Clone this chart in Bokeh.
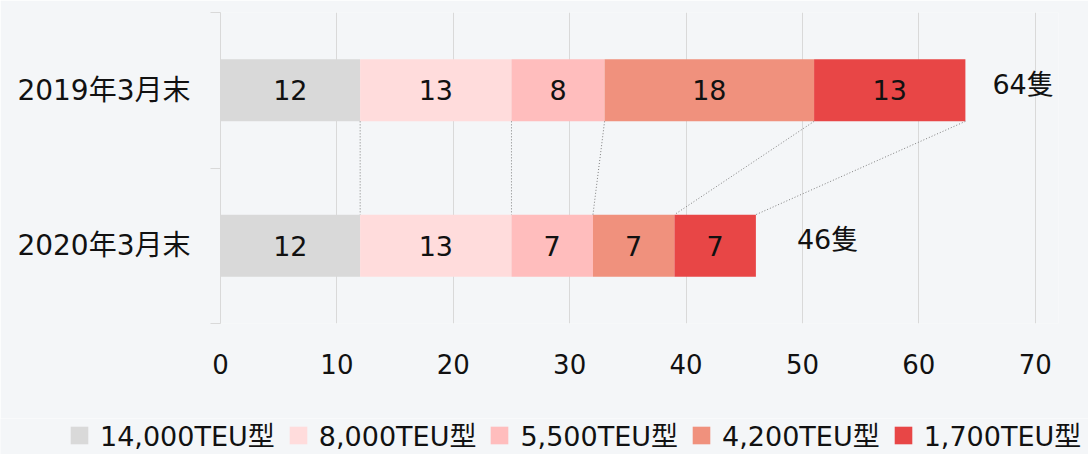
from bokeh.plotting import figure
from bokeh.models import Range1d, FixedTicker, ColumnDataSource, Legend, LegendItem
from bokeh.core.properties import value
from bokeh.embed import file_html
from bokeh.resources import INLINE

# ---- data ----
categories = ["2019年3月末", "2020年3月末"]
cat_pos = [1.5, 0.5]
types = ["14,000TEU型", "8,000TEU型", "5,500TEU型", "4,200TEU型", "1,700TEU型"]
v2019 = [12, 13, 8, 18, 13]
v2020 = [12, 13, 7, 7, 7]
colors = ["#d9d9d9", "#ffdcdc", "#ffbdbd", "#f0917d", "#e84646"]
x_ticks = [0, 10, 20, 30, 40, 50, 60, 70]

FONT = "DejaVu Sans, Noto Sans CJK JP"
BG = "#f4f6f8"
BAR_H = 0.4

p = figure(width=1088, height=418, x_range=Range1d(0, 72), y_range=Range1d(0, 2),
           output_backend="svg", toolbar_location=None,
           min_border_left=220, min_border_right=30, min_border_top=12, min_border_bottom=95)
p.background_fill_color = BG
p.border_fill_color = BG
p.outline_line_color = None

data = {"y": cat_pos}
for t, a, b in zip(types, v2019, v2020):
    data[t] = [a, b]
src = ColumnDataSource(data)
p.hbar_stack(types, y="y", height=BAR_H, color=colors, source=src, line_color=None)

# connector dotted lines between cumulative boundaries
def cums(v):
    out, s = [], 0
    for x in v:
        s += x
        out.append(s)
    return out

c19 = cums(v2019)
c20 = cums(v2020)
p.segment(x0=c19, y0=[cat_pos[0] - BAR_H / 2] * len(c19), x1=c20,
          y1=[cat_pos[1] + BAR_H / 2] * len(c20), line_color="#7f7f7f",
          line_width=1, line_dash="1 2")

# segment value labels
lx, ly, lt = [], [], []
for vals, yy in ((v2019, cat_pos[0]), (v2020, cat_pos[1])):
    s = 0
    for v in vals:
        lx.append(s + v / 2)
        ly.append(yy)
        lt.append(str(v))
        s += v
p.text(x=lx, y=ly, text=lt, text_align="center", text_baseline="middle",
       text_font=value(FONT), text_font_size="27px", text_color="#111111")

# totals
totals = [sum(v2019), sum(v2020)]
tsrc = ColumnDataSource(dict(x=totals, y=cat_pos, t=[f"{t}隻" for t in totals],
                             xo=[27, 41]))
p.text(x="x", y="y", text="t", x_offset="xo", y_offset=-6, source=tsrc,
       text_align="left", text_baseline="middle",
       text_font=value(FONT), text_font_size="27px", text_color="#111111")

# axes
p.xaxis.ticker = FixedTicker(ticks=x_ticks)
p.xaxis.axis_line_color = None
p.xaxis.major_tick_line_color = None
p.xaxis.minor_tick_line_color = None
p.xaxis.major_label_standoff = 24
p.xaxis.major_label_text_font = FONT
p.xaxis.major_label_text_font_size = "26px"
p.xaxis.major_label_text_color = "#111111"

p.yaxis.ticker = FixedTicker(ticks=cat_pos, minor_ticks=[0, 1, 2])
p.yaxis.major_label_overrides = {pos: c for pos, c in zip(cat_pos, categories)}
p.yaxis.axis_line_color = "#d9d9d9"
p.yaxis.major_tick_line_color = None
p.yaxis.major_tick_out = 0
p.yaxis.major_tick_in = 0
p.yaxis.minor_tick_line_color = "#d9d9d9"
p.yaxis.minor_tick_out = 10
p.yaxis.minor_tick_in = 0
p.yaxis.major_label_standoff = 20
p.yaxis.major_label_text_font = FONT
p.yaxis.major_label_text_font_size = "28px"
p.yaxis.major_label_text_color = "#111111"

p.xgrid.grid_line_color = "#d9d9d9"
p.ygrid.grid_line_color = None

# ---- legend strip ----
p2 = figure(width=1088, height=36, x_range=Range1d(0, 1), y_range=Range1d(0, 1),
            output_backend="svg", toolbar_location=None,
            x_axis_type=None, y_axis_type=None,
            min_border_left=0, min_border_right=0, min_border_top=0, min_border_bottom=0)
p2.background_fill_color = BG
p2.border_fill_color = BG
p2.outline_line_color = None
p2.grid.visible = False
# legend-only renderers (their single bar lies outside the visible range)
leg_rs = [p2.hbar(y=[-10], right=[1], height=0.5, color=c, line_color=None) for c in colors]
lg = Legend(items=[LegendItem(label=t, renderers=[r]) for t, r in zip(types, leg_rs)])
lg.orientation = "horizontal"
lg.location = (68, 0)
lg.background_fill_alpha = 0
lg.border_line_color = None
lg.padding = 0
lg.margin = 0
lg.spacing = 12
lg.glyph_width = 22
lg.glyph_height = 22
lg.label_standoff = 10
lg.label_text_font = FONT
lg.label_text_font_size = "27px"
lg.label_text_color = "#111111"
p2.add_layout(lg, "center")

open("out.html", "w").write(file_html([p, p2], INLINE))
